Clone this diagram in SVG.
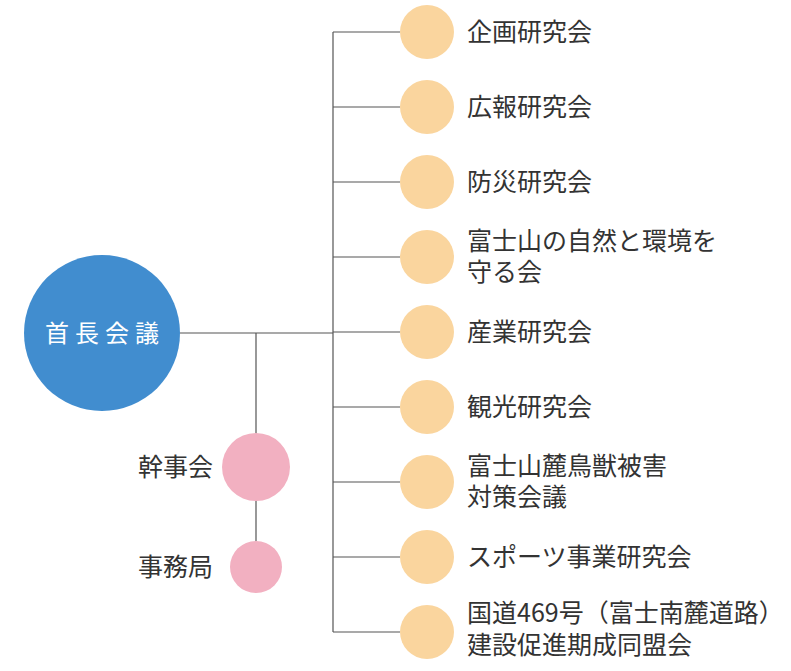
<svg xmlns="http://www.w3.org/2000/svg" width="791" height="671" viewBox="0 0 791 671">
<style>
.l{stroke:#555;stroke-width:1.2;fill:none}
.o{fill:#fad59e}
.p{fill:#f2b0c1}
.t{font-family:"Noto Sans CJK JP","Noto Sans",sans-serif;font-size:25px;fill:#333}
</style>
<rect width="791" height="671" fill="#fff"/>
<g id="connectors">
<path class="l" d="M180 333H333M333 32V632M333 32H400M333 107H400M333 182H400M333 257H400M333 332H400M333 407H400M333 482H400M333 557H400M333 632H400M256 333V541"/>
</g>
<g id="n-head"><circle cx="102" cy="333" r="78" fill="#418dcf"/><text x="105" y="342" text-anchor="middle" class="t" style="fill:#fff;font-size:24px;letter-spacing:6px">首長会議</text></g>
<g id="n-kanji"><circle class="p" cx="256" cy="467" r="34"/><text x="213" y="476" text-anchor="end" class="t">幹事会</text></g>
<g id="n-jimu"><circle class="p" cx="256" cy="567" r="26"/><text x="213" y="576" text-anchor="end" class="t">事務局</text></g>
<g id="n1"><circle class="o" cx="427" cy="32" r="27"/><text x="467" y="41" class="t">企画研究会</text></g>
<g id="n2"><circle class="o" cx="427" cy="107" r="27"/><text x="467" y="116" class="t">広報研究会</text></g>
<g id="n3"><circle class="o" cx="427" cy="182" r="27"/><text x="467" y="191" class="t">防災研究会</text></g>
<g id="n4"><circle class="o" cx="427" cy="257" r="27"/><text x="467" y="250" class="t">富士山の自然と環境を</text><text x="467" y="281" class="t">守る会</text></g>
<g id="n5"><circle class="o" cx="427" cy="332" r="27"/><text x="467" y="341" class="t">産業研究会</text></g>
<g id="n6"><circle class="o" cx="427" cy="407" r="27"/><text x="467" y="416" class="t">観光研究会</text></g>
<g id="n7"><circle class="o" cx="427" cy="482" r="27"/><text x="467" y="475" class="t">富士山麓鳥獣被害</text><text x="467" y="506" class="t">対策会議</text></g>
<g id="n8"><circle class="o" cx="427" cy="557" r="27"/><text x="467" y="566" class="t">スポーツ事業研究会</text></g>
<g id="n9"><circle class="o" cx="427" cy="632" r="27"/><text x="467" y="622" class="t">国道469号（富士南麓道路）</text><text x="467" y="654" class="t">建設促進期成同盟会</text></g>
</svg>
